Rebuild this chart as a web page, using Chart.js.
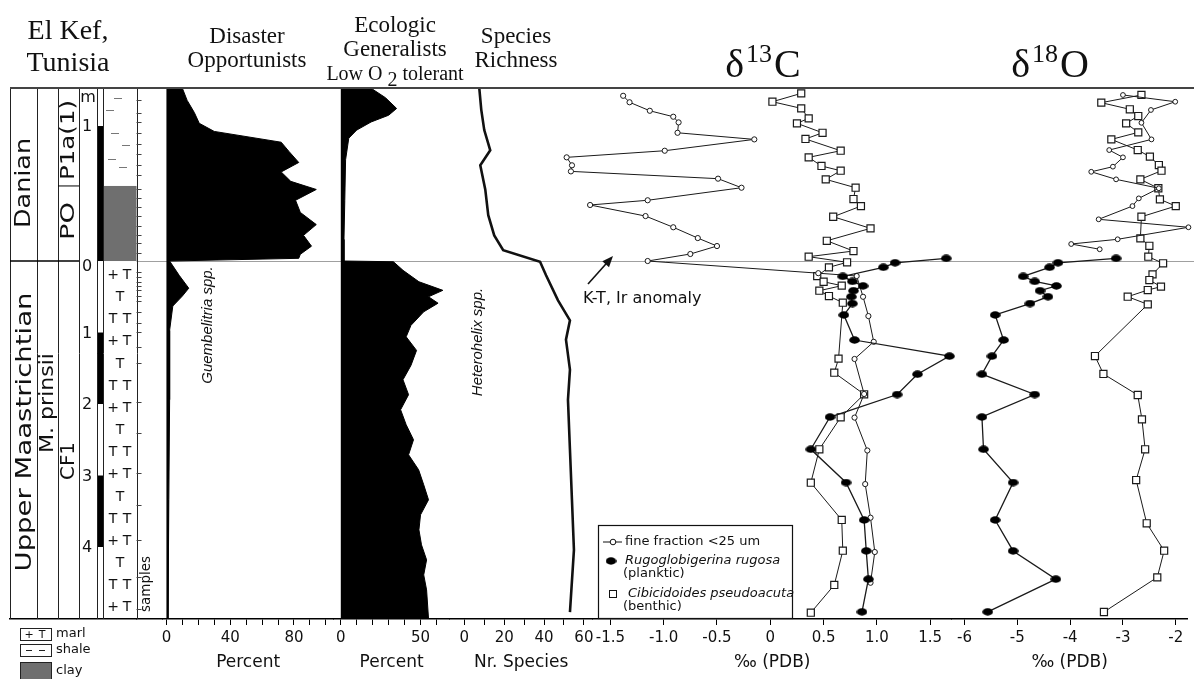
<!DOCTYPE html>
<html lang="en">
<head>
<meta charset="utf-8">
<title>El Kef, Tunisia – K-T boundary</title>
<script src="https://cdn.jsdelivr.net/npm/chart.js@4.4.1/dist/chart.umd.min.js"></script>
<style>
  html, body { margin: 0; padding: 0; background: #ffffff; }
  canvas { display: block; }
</style>
</head>
<body>
<canvas id="elkef-chart" width="1194" height="679"></canvas>
<script>
// ===============================
// Datos
// Profundidad en metros: negativa = Daniano (sobre el límite K-T), positiva = Maastrichtiense
// ===============================
const depthTickValues = [-1, 0, 1, 2, 3, 4];
const depthTickLabels = ['1', '0', '1', '2', '3', '4'];
const meterBlackBars = [[-1, 0], [1, 2], [3, 4]];
const clayTopDepth = -0.556;

const sampleDepth = [-1.19, -1.10, -1.03, -0.95, -0.87, -0.79, -0.71, -0.64, -0.53, -0.47, -0.40, -0.33,
  -0.26, -0.19, -0.13, -0.06, 0.15, 0.22, 0.29, 0.35, 0.41, 0.49, 0.56, 0.71, 0.87, 0.99, 1.20, 1.43,
  1.97, 2.41, 2.97, 3.41, 3.90, 4.42, 4.87];

// Disaster Opportunists (Guembelitria spp., %)
const disasterDepth = [-1.28, -1.19, -1.10, -1.02, -0.96, -0.88, -0.81, -0.73, -0.66, -0.59, -0.53, -0.45,
  -0.36, -0.27, -0.19, -0.11, -0.05, -0.02, 0, 0.2, 0.38, 0.49, 0.63, 0.97, 1.94, 3.34, 5.0];
const disasterPct = [10, 13, 17.5, 20.6, 30, 72, 77, 83, 72, 78, 94, 81, 84, 94, 86, 91, 84, 83, 2,
  8, 14, 10, 4, 2, 2, 1.5, 1];

// Ecologic Generalists (Heterohelix spp., %)
const ecoDepth = [-1.28, -1.21, -1.13, -1.08, -1.03, -0.97, -0.91, -0.75, -0.45, -0.16, -0.02, 0, 0.01,
  0.13, 0.29, 0.41, 0.50, 0.59, 0.71, 0.90, 1.06, 1.25, 1.46, 1.66, 1.87, 2.08, 2.29, 2.50, 2.71, 2.92,
  3.13, 3.34, 3.55, 3.76, 3.97, 4.18, 4.39, 4.60, 5.0];
const ecoPct = [19, 28, 35, 30, 19, 10, 5, 3, 2.5, 2, 2, 2, 33, 39, 49, 64, 55, 61, 52, 44, 41, 47.5,
  44, 39, 42.5, 37.5, 41, 45.6, 42.5, 48.8, 52, 55, 50, 49, 50.6, 53.8, 52, 53.8, 55];

// Species Richness (número de especies)
const speciesDepth = [-1.28, -1.12, -0.97, -0.82, -0.71, -0.53, -0.34, -0.19, -0.08, 0.01, 0.2, 0.55,
  0.83, 1.1, 1.52, 1.94, 2.64, 3.34, 4.04, 4.91];
const speciesN = [7.5, 8.5, 10, 13, 8, 10.5, 12, 15, 19.5, 38, 41, 47, 53, 51, 53, 52, 53, 54, 55, 53];

// δ13C fracción fina (<25 um)
const c13FineDepth = [-1.224, -1.176, -1.113, -1.069, -1.027, -0.95, -0.901, -0.817, -0.768, -0.709,
  -0.664, -0.61, -0.543, -0.45, -0.415, -0.333, -0.25, -0.17, -0.111, -0.052, 0.0, 0.17, 0.21, 0.5,
  0.77, 1.13, 1.37, 1.86, 2.19, 2.65, 3.12, 3.59, 4.07, 4.5];
const c13Fine = [-1.38, -1.32, -1.13, -0.91, -0.86, -0.87, -0.15, -0.99, -1.91, -1.86, -1.87, -0.49,
  -0.27, -1.15, -1.69, -1.17, -0.91, -0.68, -0.50, -0.75, -1.15, 0.45, 0.81, 0.87, 0.92, 0.97, 0.79,
  0.88, 0.79, 0.91, 0.89, 0.94, 0.98, 0.94];

// δ13C bentónico (Cibicidoides pseudoacuta)
const c13BenthDepth = [-1.242, -1.18, -1.131, -1.057, -1.02, -0.95, -0.904, -0.817, -0.768, -0.704,
  -0.669, -0.605, -0.543, -0.459, -0.407, -0.328, -0.242, -0.15, -0.074, -0.032, 0.018, 0.088, 0.21,
  0.29, 0.345, 0.415, 0.49, 0.583, 1.366, 1.562, 1.864, 2.186, 2.633, 3.101, 3.622, 4.052, 4.531, 4.919];
const c13Benth = [0.29, 0.02, 0.29, 0.36, 0.25, 0.49, 0.33, 0.66, 0.36, 0.48, 0.66, 0.52, 0.80, 0.78,
  0.85, 0.59, 0.94, 0.53, 0.78, 0.36, 0.72, 0.55, 0.44, 0.50, 0.67, 0.46, 0.55, 0.68, 0.64, 0.60, 0.88,
  0.66, 0.46, 0.38, 0.67, 0.68, 0.60, 0.38];

// Planctónico (Rugoglobigerina rugosa), mismas muestras para δ13C y δ18O
const planktDepth = [-0.02, 0.025, 0.088, 0.215, 0.285, 0.348, 0.415, 0.499, 0.595, 0.755, 1.105, 1.331,
  1.583, 1.867, 2.182, 2.633, 3.098, 3.622, 4.055, 4.45, 4.907];
const c13Plankt = [1.65, 1.17, 1.06, 0.68, 0.77, 0.87, 0.78, 0.76, 0.77, 0.69, 0.79, 1.68, 1.38, 1.19,
  0.56, 0.38, 0.71, 0.88, 0.90, 0.92, 0.86];
const o18Plankt = [-3.13, -4.23, -4.39, -4.89, -4.67, -4.26, -4.57, -4.42, -4.76, -5.42, -5.26, -5.48,
  -5.67, -4.67, -5.67, -5.64, -5.08, -5.42, -5.08, -4.27, -5.56];

// δ18O fracción fina (sólo Daniano)
const o18FineDepth = [-1.23, -1.18, -1.119, -1.024, -0.901, -0.822, -0.768, -0.699, -0.661, -0.605,
  -0.539, -0.464, -0.407, -0.309, -0.25, -0.161, -0.126, -0.087];
const o18Fine = [-3.00, -2.01, -2.47, -2.65, -2.46, -3.26, -3.00, -3.19, -3.60, -3.13, -2.32, -2.70,
  -2.82, -3.46, -1.76, -3.10, -3.98, -3.44];

// δ18O bentónico
const o18BenthDepth = [-1.23, -1.173, -1.124, -1.074, -1.02, -0.953, -0.901, -0.822, -0.773, -0.711,
  -0.669, -0.605, -0.539, -0.457, -0.407, -0.328, -0.168, -0.113, -0.032, 0.032, 0.186, 0.266, 0.359,
  0.406, 0.499, 0.606, 1.329, 1.58, 1.874, 2.214, 2.633, 3.063, 3.668, 4.052, 4.424, 4.909];
const o18Benth = [-2.65, -3.41, -2.87, -2.71, -2.94, -2.71, -3.22, -2.72, -2.49, -2.32, -2.27, -2.67,
  -2.33, -2.30, -2.00, -2.65, -2.67, -2.50, -2.52, -2.24, -2.44, -2.50, -2.28, -2.53, -2.91, -2.53,
  -3.53, -3.37, -2.72, -2.64, -2.58, -2.75, -2.55, -2.22, -2.35, -3.36];

// Etiquetas de los ejes inferiores
const disasterTicks = [0, 40, 80];
const ecoTicks = [0, 50];
const speciesTicks = [0, 20, 40, 60];
const c13Ticks = [-1.5, -1.0, -0.5, 0, 0.5, 1.0, 1.5];
const o18Ticks = [-6, -5, -4, -3, -2];

// ===============================
// Escala vertical: el Daniano está dibujado más estirado que el Maastrichtiense
// ===============================
const DANIAN_STRETCH = 135 / 71.5;
const LEVEL_MIN = -2.42;
const LEVEL_MAX = 5.007;
const toLevel = d => d < 0 ? d * DANIAN_STRETCH : d;

function puntos(depths, values) {
  return depths.map((d, i) => ({ x: values[i], y: toLevel(d) }));
}

const SANS = "'DejaVu Sans', Verdana, sans-serif";
const ARIAL = "'Liberation Sans', Arial, sans-serif";
const SERIF = "'Liberation Serif', 'Times New Roman', serif";

// Símbolo elíptico negro para R. rugosa
const elipse = document.createElement('canvas');
elipse.width = 11;
elipse.height = 8;
(function() {
  const ec = elipse.getContext('2d');
  ec.fillStyle = '#000';
  ec.beginPath();
  ec.ellipse(5.5, 4, 5.3, 3.7, 0, 0, Math.PI * 2);
  ec.fill();
})();

// ===============================
// Utilidades de dibujo
// ===============================
function textoVertical(ctx, text, cx, cy, font, length) {
  ctx.save();
  ctx.font = font;
  const w = ctx.measureText(text).width;
  ctx.translate(cx, cy);
  ctx.rotate(-Math.PI / 2);
  if (length) ctx.scale(length / w, 1);
  ctx.textAlign = 'center';
  ctx.textBaseline = 'middle';
  ctx.fillText(text, 0, 0);
  ctx.restore();
}

function textoCompuesto(ctx, partes, cx, baseY, gap) {
  let total = 0;
  const anchos = partes.map(([t, size]) => {
    ctx.font = size + 'px ' + SERIF;
    const w = ctx.measureText(t).width;
    total += w;
    return w;
  });
  total += gap * (partes.length - 1);
  let x = cx - total / 2;
  ctx.textAlign = 'left';
  partes.forEach(([t, size, dy], i) => {
    ctx.font = size + 'px ' + SERIF;
    ctx.fillText(t, x, baseY + dy);
    x += anchos[i] + gap;
  });
}

function dibujarColumna(chart) {
  const { ctx, chartArea, scales } = chart;
  const yOf = d => scales.y.getPixelForValue(toLevel(d));
  const x0 = scales.xStrat.left;
  const xr = scales.xStrat.right;
  const cEtapa = x0 + 27, cZona = x0 + 48, cSub = x0 + 69, cBarra1 = x0 + 87, cBarra2 = x0 + 93;
  const top = chartArea.top, bot = chartArea.bottom;
  const yKT = yOf(0), yClay = yOf(clayTopDepth);

  ctx.save();
  // arcilla en la base del Daniano
  ctx.fillStyle = '#6f6f6f';
  ctx.fillRect(cBarra2, yClay, xr - cBarra2, yKT - yClay);

  // barra de escala (metros alternos en negro)
  ctx.fillStyle = '#000';
  meterBlackBars.forEach(([a, b]) => {
    const ya = yOf(a), yb = yOf(b);
    ctx.fillRect(cBarra1, ya, cBarra2 - cBarra1, yb - ya);
  });

  // líneas verticales de la columna
  ctx.strokeStyle = '#222';
  ctx.lineWidth = 1;
  [x0, cEtapa, cZona, cSub, cBarra1, cBarra2, xr].forEach(x => {
    ctx.beginPath();
    ctx.moveTo(Math.round(x) + 0.5, top);
    ctx.lineTo(Math.round(x) + 0.5, bot);
    ctx.stroke();
  });

  // límite K-T en la columna y límite P1a / P0
  ctx.lineWidth = 1.5;
  ctx.strokeStyle = '#000';
  ctx.beginPath();
  ctx.moveTo(x0, yKT);
  ctx.lineTo(cSub, yKT);
  ctx.stroke();
  ctx.lineWidth = 1;
  ctx.beginPath();
  ctx.moveTo(cZona, yClay);
  ctx.lineTo(cSub, yClay);
  ctx.stroke();

  // textos rotados
  ctx.fillStyle = '#111';
  textoVertical(ctx, 'Danian', 25, 183, '21px ' + SANS, 90);
  textoVertical(ctx, 'Upper Maastrichtian', 25.5, 432, '21px ' + SANS, 279);
  textoVertical(ctx, 'M. prinsii', 47.5, 403, '20px ' + SANS, 100);
  textoVertical(ctx, 'CF1', 69.5, 461, '19px ' + SANS, 38);
  textoVertical(ctx, 'P1a(1)', 69.5, 140, '19px ' + SANS, 80);
  textoVertical(ctx, 'PO', 69.5, 221, '19px ' + SANS, 38);
  textoVertical(ctx, 'samples', xr + 10, 584, '14px ' + SANS, 56);

  // escala de profundidad
  ctx.font = '16px ' + SANS;
  ctx.textAlign = 'center';
  ctx.textBaseline = 'middle';
  ctx.fillText('m', (cSub + cBarra1) / 2, yOf(-1.21));
  depthTickValues.forEach((d, i) => {
    const dy = d === 0 ? 6 : 1;
    ctx.fillText(depthTickLabels[i], (cSub + cBarra1) / 2 - 1, yOf(d) + dy);
  });

  // margas (símbolos + T) en el Maastrichtiense
  ctx.font = '14px ' + SANS;
  const patrones = [['+', 'T'], ['', 'T', ''], ['T', 'T']];
  for (let d = 0.2, k = 0; d < 4.95; d += 0.31, k++) {
    const y = yOf(d);
    const p = patrones[k % 3];
    if (p.length === 3) {
      ctx.fillText('T', cBarra2 + 17, y);
    } else {
      ctx.fillText(p[0], cBarra2 + 10, y);
      ctx.fillText(p[1], cBarra2 + 24, y);
    }
  }

  // lutitas (guiones) en el Daniano superior
  ctx.strokeStyle = '#777';
  ctx.lineWidth = 1;
  [[-1.207, 15], [-1.119, 7], [-0.948, 12], [-0.859, 23], [-0.756, 9], [-0.696, 20]].forEach(([d, dx]) => {
    const y = Math.round(yOf(d)) + 0.5;
    ctx.beginPath();
    ctx.moveTo(cBarra2 + dx - 4, y);
    ctx.lineTo(cBarra2 + dx + 4, y);
    ctx.stroke();
  });

  // marcas de muestras
  ctx.strokeStyle = '#444';
  sampleDepth.forEach(d => {
    const y = Math.round(yOf(d)) + 0.5;
    ctx.beginPath();
    ctx.moveTo(xr, y);
    ctx.lineTo(xr + 5, y);
    ctx.stroke();
  });

  // marco superior
  ctx.strokeStyle = '#444';
  ctx.lineWidth = 2;
  ctx.beginPath();
  ctx.moveTo(x0, top);
  ctx.lineTo(chart.width, top);
  ctx.stroke();
  ctx.restore();
}

function dibujarLitologia(ctx) {
  ctx.save();
  ctx.strokeStyle = '#222';
  ctx.fillStyle = '#111';
  ctx.lineWidth = 1;
  ctx.textBaseline = 'middle';
  ctx.textAlign = 'left';
  ctx.strokeRect(20.5, 628.5, 31, 12);
  ctx.font = '11px ' + SANS;
  ctx.textAlign = 'center';
  ctx.fillText('+', 29, 635);
  ctx.fillText('T', 42, 635);
  ctx.strokeRect(20.5, 644.5, 31, 12);
  ctx.beginPath();
  ctx.moveTo(26, 650.5); ctx.lineTo(32, 650.5);
  ctx.moveTo(39, 650.5); ctx.lineTo(45, 650.5);
  ctx.stroke();
  ctx.fillStyle = '#6f6f6f';
  ctx.fillRect(20, 662, 32, 17);
  ctx.strokeRect(20.5, 662.5, 31, 17);
  ctx.fillStyle = '#111';
  ctx.textAlign = 'left';
  ctx.font = '13px ' + SANS;
  ctx.fillText('marl', 56, 634);
  ctx.fillText('shale', 56, 650);
  ctx.fillText('clay', 56, 671);
  ctx.restore();
}

function dibujarCabeceras(ctx) {
  ctx.save();
  ctx.fillStyle = '#111';
  ctx.textAlign = 'center';
  ctx.textBaseline = 'alphabetic';
  ctx.font = '28px ' + SERIF;
  ctx.fillText('El Kef,', 68, 39);
  ctx.fillText('Tunisia', 68, 71);
  ctx.font = '23px ' + SERIF;
  ctx.fillText('Disaster', 247, 43);
  ctx.fillText('Opportunists', 247, 67);
  ctx.fillText('Ecologic', 395, 32);
  ctx.fillText('Generalists', 395, 56);
  ctx.fillText('Species', 516, 43);
  ctx.fillText('Richness', 516, 67);
  textoCompuesto(ctx, [['Low O', 20, 0], ['2', 20, 6], ['tolerant', 20, 0]], 395, 80, 5);
  textoCompuesto(ctx, [['δ', 40, 0], ['13', 26, -15], ['C', 40, 0]], 763, 77, 2);
  textoCompuesto(ctx, [['δ', 40, 0], ['18', 26, -15], ['O', 40, 0]], 1050, 77, 2);
  ctx.restore();
}

function dibujarAnotaciones(ctx) {
  ctx.save();
  ctx.fillStyle = '#111';
  ctx.strokeStyle = '#111';
  // flecha del límite K-T
  const x1 = 588, y1 = 284, x2 = 613, y2 = 256;
  const len = Math.hypot(x2 - x1, y2 - y1);
  const ux = (x2 - x1) / len, uy = (y2 - y1) / len;
  ctx.lineWidth = 1.6;
  ctx.beginPath();
  ctx.moveTo(x1, y1);
  ctx.lineTo(x2 - 9 * ux, y2 - 9 * uy);
  ctx.stroke();
  ctx.beginPath();
  ctx.moveTo(x2, y2);
  ctx.lineTo(x2 - 11 * ux - 4.5 * uy, y2 - 11 * uy + 4.5 * ux);
  ctx.lineTo(x2 - 11 * ux + 4.5 * uy, y2 - 11 * uy - 4.5 * ux);
  ctx.closePath();
  ctx.fill();
  ctx.font = '16px ' + SANS;
  ctx.textAlign = 'left';
  ctx.textBaseline = 'alphabetic';
  ctx.fillText('K-T, Ir anomaly', 583, 303);
  textoVertical(ctx, 'Guembelitria spp.', 208, 325, 'italic 15px ' + ARIAL);
  textoVertical(ctx, 'Heterohelix spp.', 478, 342, 'italic 15px ' + ARIAL);
  ctx.restore();
}

function dibujarLeyenda(ctx) {
  ctx.save();
  ctx.fillStyle = '#fff';
  ctx.fillRect(598.5, 525.5, 194, 93);
  ctx.strokeStyle = '#111';
  ctx.lineWidth = 1.2;
  ctx.strokeRect(598.5, 525.5, 194, 93);
  ctx.lineWidth = 1;
  ctx.beginPath();
  ctx.moveTo(603, 542);
  ctx.lineTo(622, 542);
  ctx.stroke();
  ctx.beginPath();
  ctx.arc(613, 542, 2.8, 0, Math.PI * 2);
  ctx.fillStyle = '#fff';
  ctx.fill();
  ctx.stroke();
  ctx.drawImage(elipse, 611 - elipse.width / 2, 561 - elipse.height / 2);
  ctx.fillStyle = '#fff';
  ctx.fillRect(609.5, 590.5, 7, 7);
  ctx.strokeRect(609.5, 590.5, 7, 7);
  ctx.fillStyle = '#111';
  ctx.textAlign = 'left';
  ctx.textBaseline = 'middle';
  ctx.font = '13px ' + SANS;
  ctx.fillText('fine fraction <25 um', 625, 542);
  ctx.fillText('(planktic)', 623, 574);
  ctx.fillText('(benthic)', 623, 607);
  ctx.font = 'italic 13px ' + SANS;
  ctx.fillText('Rugoglobigerina rugosa', 625, 561);
  ctx.fillText('Cibicidoides pseudoacuta', 628, 594);
  ctx.restore();
}

const plantillaPlugin = {
  id: 'plantillaElKef',
  beforeDatasetsDraw(chart) {
    // línea gris del límite K-T a través de los paneles
    const { ctx, scales } = chart;
    const y0 = Math.round(scales.y.getPixelForValue(0)) + 0.5;
    ctx.save();
    ctx.strokeStyle = '#a0a0a0';
    ctx.lineWidth = 1;
    ctx.beginPath();
    ctx.moveTo(scales.xSamples.left, y0);
    ctx.lineTo(chart.width, y0);
    ctx.stroke();
    ctx.restore();
  },
  afterDraw(chart) {
    dibujarColumna(chart);
    dibujarLitologia(chart.ctx);
    dibujarCabeceras(chart.ctx);
    dibujarAnotaciones(chart.ctx);
    dibujarLeyenda(chart.ctx);
  }
};

// ===============================
// Ejes inferiores apilados (un panel por eje)
// ===============================
function fijarAltura(scale) {
  scale.height = 60;
  scale.paddingLeft = 0;
  scale.paddingRight = 0;
}

function ejeVacio(weight) {
  return {
    type: 'linear', axis: 'x', position: 'bottom', stack: 'paneles', stackWeight: weight,
    min: 0, max: 1,
    grid: { display: false },
    ticks: { display: false },
    border: { display: true, color: '#000', width: 1.5 },
    afterFit: fijarAltura
  };
}

function ejeX(min, max, step, labels, decimals, title, weight) {
  return {
    type: 'linear', axis: 'x', position: 'bottom', stack: 'paneles', stackWeight: weight,
    min: min, max: max,
    grid: { drawOnChartArea: false, drawTicks: true, tickLength: 6, color: '#000', lineWidth: 1 },
    border: { display: true, color: '#000', width: 1.5 },
    ticks: {
      stepSize: step, includeBounds: false, autoSkip: false, maxRotation: 0, padding: 4,
      color: '#111', font: { family: SANS, size: 15 },
      callback: function(value) {
        const hit = labels.find(l => Math.abs(l - value) < 1e-6);
        if (hit === undefined) return '';
        return Math.abs(hit) < 1e-9 ? '0' : hit.toFixed(decimals);
      }
    },
    title: {
      display: true, text: title, color: '#111',
      font: { family: SANS, size: 17 }, padding: { top: 0, bottom: 6 }
    },
    afterFit: fijarAltura
  };
}

const tinta = '#1a1a1a';

const datasets = [
  {
    label: 'R. rugosa δ13C', xAxisID: 'xC13', data: puntos(planktDepth, c13Plankt),
    borderColor: tinta, borderWidth: 1.3, pointStyle: elipse, pointRadius: 5, clip: false
  },
  {
    label: 'R. rugosa δ18O', xAxisID: 'xO18', data: puntos(planktDepth, o18Plankt),
    borderColor: tinta, borderWidth: 1.3, pointStyle: elipse, pointRadius: 5, clip: false
  },
  {
    label: 'fine fraction δ13C', xAxisID: 'xC13', data: puntos(c13FineDepth, c13Fine),
    borderColor: tinta, borderWidth: 1, pointStyle: 'circle', pointRadius: 2.6,
    pointBackgroundColor: '#fff', pointBorderColor: tinta, pointBorderWidth: 1, clip: false
  },
  {
    label: 'fine fraction δ18O', xAxisID: 'xO18', data: puntos(o18FineDepth, o18Fine),
    borderColor: tinta, borderWidth: 1, pointStyle: 'circle', pointRadius: 2.4,
    pointBackgroundColor: '#fff', pointBorderColor: tinta, pointBorderWidth: 1, clip: false
  },
  {
    label: 'C. pseudoacuta δ13C', xAxisID: 'xC13', data: puntos(c13BenthDepth, c13Benth),
    borderColor: tinta, borderWidth: 1, pointStyle: 'rect', pointRadius: 5,
    pointBackgroundColor: '#fff', pointBorderColor: tinta, pointBorderWidth: 1.2, clip: false
  },
  {
    label: 'C. pseudoacuta δ18O', xAxisID: 'xO18', data: puntos(o18BenthDepth, o18Benth),
    borderColor: tinta, borderWidth: 1, pointStyle: 'rect', pointRadius: 5,
    pointBackgroundColor: '#fff', pointBorderColor: tinta, pointBorderWidth: 1.2, clip: false
  },
  {
    label: 'Species Richness', xAxisID: 'xSpe', data: puntos(speciesDepth, speciesN),
    borderColor: '#111', borderWidth: 2.6, pointRadius: 0
  },
  {
    label: 'Heterohelix spp.', xAxisID: 'xEco', data: puntos(ecoDepth, ecoPct),
    borderColor: '#000', backgroundColor: '#000', borderWidth: 1, pointRadius: 0, fill: 'origin'
  },
  {
    label: 'Guembelitria spp.', xAxisID: 'xDis', data: puntos(disasterDepth, disasterPct),
    borderColor: '#000', backgroundColor: '#000', borderWidth: 1, pointRadius: 0, fill: 'origin'
  }
];

new Chart(document.getElementById('elkef-chart'), {
  type: 'line',
  data: { datasets: datasets },
  options: {
    responsive: false,
    animation: false,
    events: [],
    indexAxis: 'y',
    layout: { padding: { left: 10, right: 2, top: 88, bottom: 0 } },
    elements: { line: { tension: 0 } },
    plugins: {
      legend: { display: false },
      tooltip: { enabled: false }
    },
    scales: {
      y: { type: 'linear', axis: 'y', display: false, reverse: true, min: LEVEL_MIN, max: LEVEL_MAX, ticks: { display: false } },
      xStrat: ejeVacio(127),
      xSamples: ejeVacio(26),
      xDis: ejeX(-2.5, 105, 10, disasterTicks, 0, 'Percent', 172),
      xEco: ejeX(-4.375, 68.1, 10, ecoTicks, 0, 'Percent', 116),
      xSpe: ejeX(-7.5, 64.5, 10, speciesTicks, 0, 'Nr. Species', 144),
      xC13: ejeX(-1.664, 1.70, 0.5, c13Ticks, 1, '‰ (PDB)', 360),
      xO18: ejeX(-6.245, -1.774, 1, o18Ticks, 0, '‰ (PDB)', 237)
    }
  },
  plugins: [plantillaPlugin]
});
</script>
</body>
</html>
